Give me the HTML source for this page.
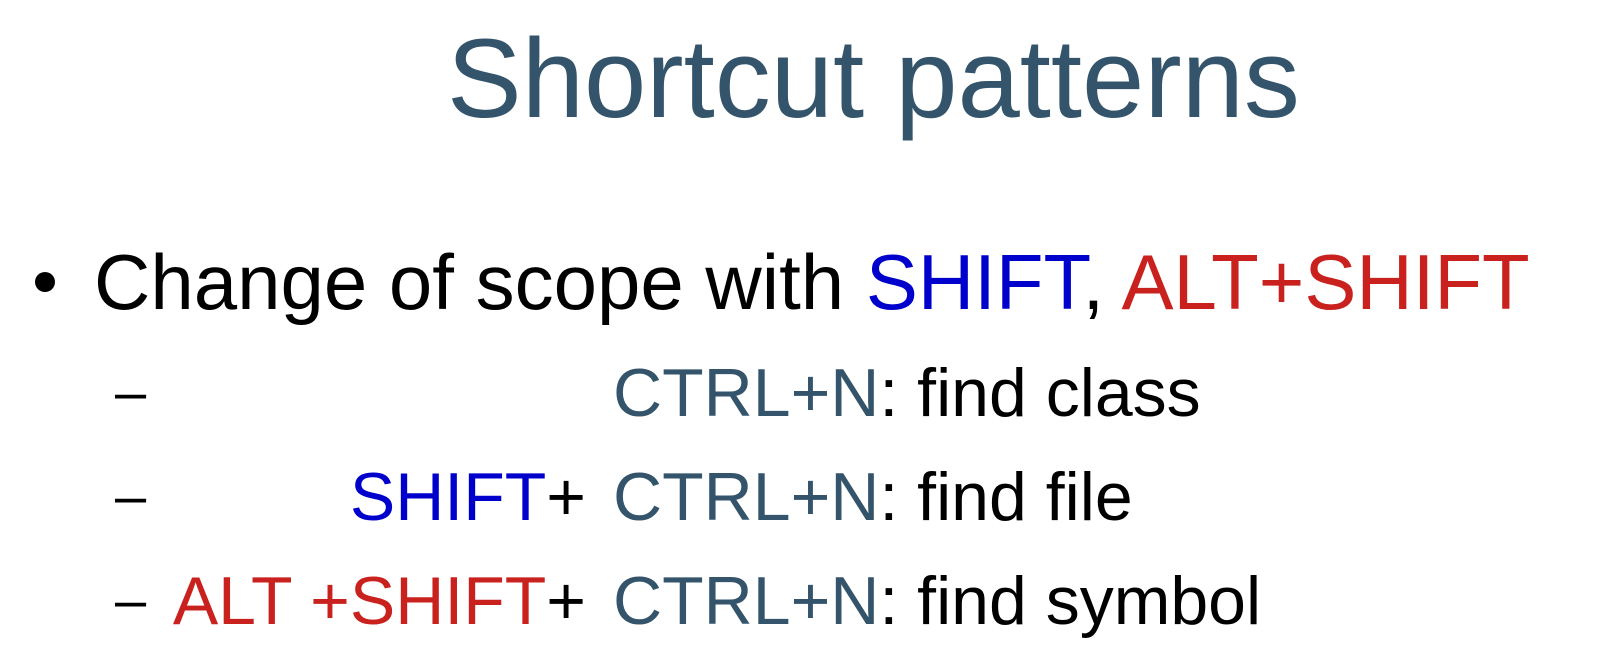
<!DOCTYPE html>
<html><head><meta charset="utf-8"><style>
body{margin:0;width:1624px;height:659px;background:#fff;position:relative;overflow:hidden;font-family:"Liberation Sans",sans-serif;}
.a{position:absolute;white-space:nowrap;line-height:1;}
.t{left:447px;top:23px;font-size:112px;color:#34546c;letter-spacing:0px;}
.b{left:94px;top:243px;font-size:78px;color:#000;}
.s{font-size:68px;color:#000;}
.d{font-size:56px;color:#000;}
.bl{color:#0000cc}.rd{color:#c9211e}.sl{color:#34546c}
.pre{right:1038px;text-align:right;}
</style></head><body>
<div class="a t">Shortcut patterns</div>
<div class="a" style="left:35px;top:272px;width:20px;height:20px;border-radius:50%;background:#000"></div>
<div class="a b">Change of scope with <span class="bl">SHIFT</span>, <span class="rd">ALT+SHIFT</span></div>
<div class="a d" style="left:115px;top:364px">–</div>
<div class="a d" style="left:115px;top:468px">–</div>
<div class="a d" style="left:115px;top:572px">–</div>
<div class="a s pre" style="top:463px"><span class="bl">SHIFT</span>+</div>
<div class="a s pre" style="top:567px"><span class="rd">ALT +SHIFT</span>+</div>
<div class="a s" style="left:613px;top:359px"><span class="sl">CTRL+N</span>: find class</div>
<div class="a s" style="left:613px;top:463px"><span class="sl">CTRL+N</span>: find file</div>
<div class="a s" style="left:613px;top:567px"><span class="sl">CTRL+N</span>: find symbol</div>
</body></html>
